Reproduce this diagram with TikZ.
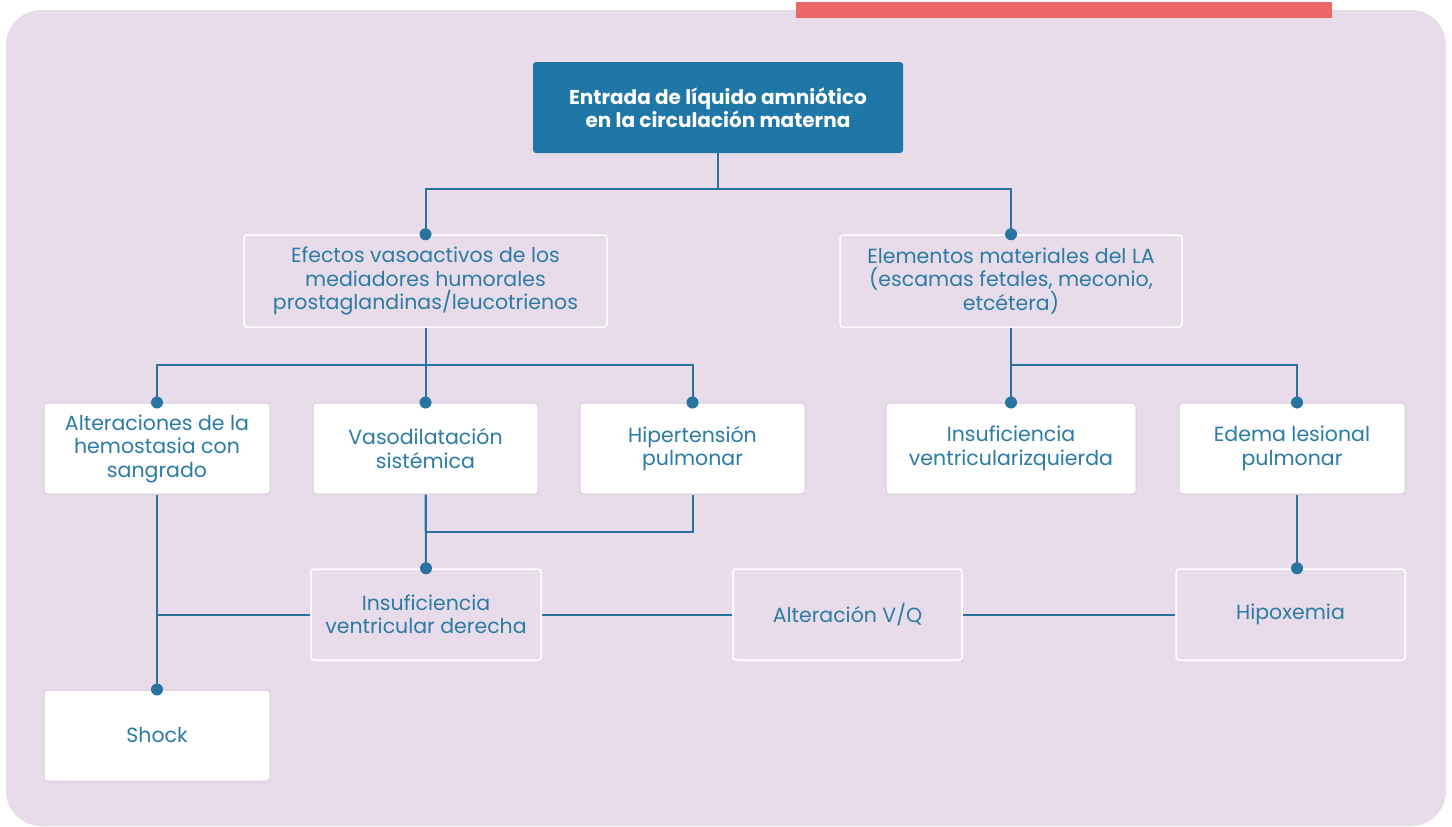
\documentclass[tikz,border=0pt]{standalone}
\usepackage{fontspec}
\setmainfont{Poppins}
\definecolor{bg}{HTML}{E9DCEA}
\definecolor{redbar}{HTML}{EC6567}
\definecolor{topfill}{HTML}{1F77A7}
\definecolor{txt}{HTML}{2A7BA5}
\definecolor{conn}{HTML}{2873A0}
\definecolor{boxline}{HTML}{D6CCD8}
\tikzset{
  basebox/.style={draw=boxline, line width=1pt, rounded corners=3pt, text=txt, align=center,
    font=\fontsize{20.5}{23.5}\selectfont, inner sep=0pt},
  whitebox/.style={basebox, fill=white},
  clearbox/.style={basebox, fill=bg, draw=white, line width=1.5pt},
  topbox/.style={fill=topfill, rounded corners=3pt, text=white, align=center,
    font=\fontsize{20}{23}\selectfont\bfseries, inner sep=0pt},
  conn/.style={draw=conn, line width=2pt},
  dot/.style={fill=conn}
}
\begin{document}
\begin{tikzpicture}[x=1pt,y=-1pt]
\useasboundingbox (0,0) rectangle (1452,827);
\fill[white] (0,0) rectangle (1452,827);
\fill[bg, rounded corners=35pt] (6,10) rectangle (1446,826);
\fill[redbar] (796,2) rectangle (1332,18);

\node[topbox, minimum width=370pt, minimum height=91pt] (top) at (718,107.5) {Entrada de líquido amniótico\\en la circulación materna};

\node[clearbox, minimum width=363pt, minimum height=92pt] (ef) at (425.5,281) {Efectos vasoactivos de los\\mediadores humorales\\prostaglandinas/leucotrienos};
\node[clearbox, minimum width=342pt, minimum height=92pt] (el) at (1011,281) {Elementos materiales del LA\\(escamas fetales, meconio,\\etcétera)};

\node[whitebox, minimum width=226pt, minimum height=91pt] (al) at (157,448.5) {Alteraciones de la\\hemostasia con\\sangrado};
\node[whitebox, minimum width=225pt, minimum height=91pt] (va) at (425.5,448.5) {Vasodilatación\\sistémica};
\node[whitebox, minimum width=225pt, minimum height=91pt] (hi) at (692.5,448.5) {Hipertensión\\pulmonar};
\node[whitebox, minimum width=250pt, minimum height=91pt] (iz) at (1011,448.5) {Insuficiencia\\ventricularizquierda};
\node[whitebox, minimum width=226pt, minimum height=91pt] (ed) at (1292,448.5) {Edema lesional\\pulmonar};

\node[clearbox, minimum width=230pt, minimum height=91pt] (ivd) at (426,614.5) {Insuficiencia\\ventricular derecha};
\node[clearbox, minimum width=229pt, minimum height=91pt] (vq) at (847.5,614.5) {Alteración V/Q};
\node[clearbox, minimum width=229pt, minimum height=91pt] (hx) at (1290.5,614.5) {Hipoxemia};

\node[whitebox, minimum width=226pt, minimum height=91pt] (sh) at (157,735.5) {Shock};

% connectors
\draw[conn] (top.south) -- ++(0,36) -| (ef.north);
\draw[conn] (top.south) -- ++(0,36) -| (el.north);
\draw[conn] (ef.south) -- ++(0,37) -| (al.north);
\draw[conn] (ef.south) -- (va.north);
\draw[conn] (ef.south) -- ++(0,37) -| (hi.north);
\draw[conn] (el.south) -- (iz.north);
\draw[conn] (el.south) -- ++(0,37) -| ([xshift=5pt]ed.north) coordinate (edtop);
\draw[conn] (va.south) -- ++(0,37) -| (hi.south);
\draw[conn] (va.south) -- (ivd.north);
\draw[conn] (al.south) -- (sh.north);
\draw[conn] (ivd.west) -- (al.south |- ivd.west);
\draw[conn] (ivd.east) -- (vq.west);
\draw[conn] (vq.east) -- (hx.west);
\draw[conn] ([xshift=5pt]ed.south) -- ([xshift=6.5pt]hx.north) coordinate (hxtop);

% dots
\foreach \p in {ef.north, el.north, al.north, va.north, hi.north, iz.north, ivd.north, sh.north}
  \fill[dot] (\p) circle (6pt);
\fill[dot] (edtop) circle (6pt);
\fill[dot] (hxtop) circle (6pt);
\end{tikzpicture}
\end{document}
